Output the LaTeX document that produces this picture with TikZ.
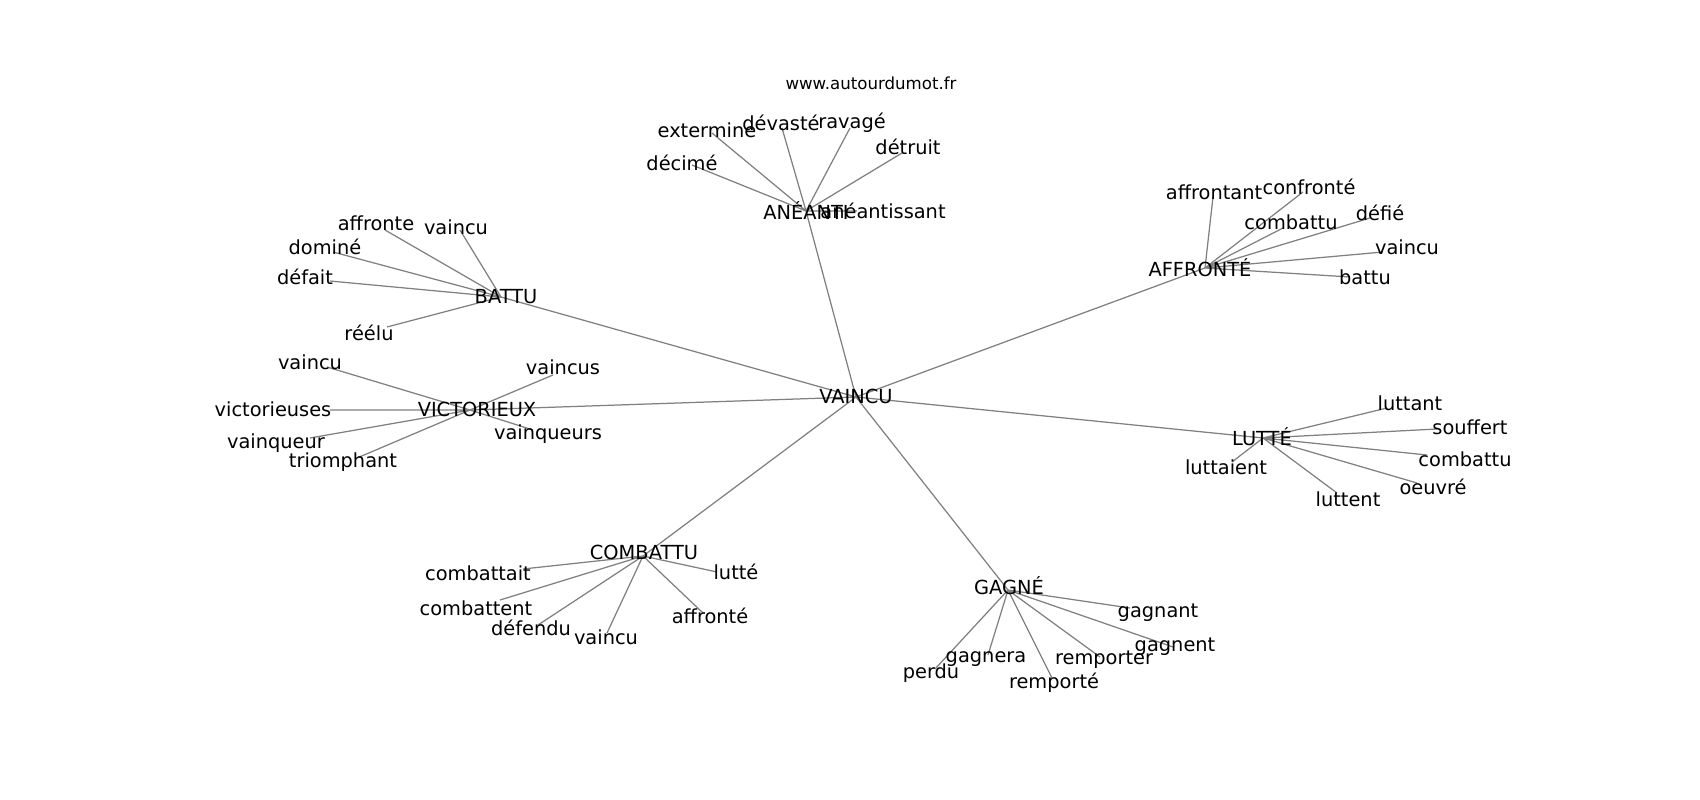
\documentclass[tikz,border=0pt]{standalone}
\usepackage{fontspec}
\setmainfont{DejaVu Sans}
\begin{document}
\begin{tikzpicture}[x=0.01in, y=-0.01in,
  lien/.style={draw=gray, line width=0.9pt},
  mot/.style={inner sep=0pt, font=\fontsize{14}{17}\selectfont},
  titre/.style={inner sep=0pt, font=\fontsize{12}{14}\selectfont}]
\useasboundingbox (0,0) rectangle (1700,800);
\coordinate (V) at (856,397);
\coordinate (N) at (806,211);
\coordinate (F) at (1205,268);
\coordinate (B) at (501,297);
\coordinate (X) at (470,410);
\coordinate (L) at (1263,438);
\coordinate (C) at (643,556);
\coordinate (G) at (1008,590);
\coordinate (N1) at (712,133);
\coordinate (N2) at (782,128);
\coordinate (N3) at (850,128);
\coordinate (N4) at (902,153);
\coordinate (N5) at (692,165);
\coordinate (N6) at (857,211);
\coordinate (F1) at (1213,197);
\coordinate (F2) at (1303,192);
\coordinate (F3) at (1283,228);
\coordinate (F4) at (1370,218);
\coordinate (F5) at (1383,252);
\coordinate (F6) at (1350,277);
\coordinate (B1) at (385,230);
\coordinate (B2) at (460,230);
\coordinate (B3) at (333,252);
\coordinate (B4) at (330,281);
\coordinate (B5) at (387,327);
\coordinate (X1) at (327,367);
\coordinate (X2) at (553,375);
\coordinate (X3) at (330,410);
\coordinate (X4) at (310,438);
\coordinate (X5) at (357,458);
\coordinate (X6) at (533,430);
\coordinate (L1) at (1232,462);
\coordinate (L2) at (1337,493);
\coordinate (L3) at (1387,408);
\coordinate (L4) at (1437,429);
\coordinate (L5) at (1427,455);
\coordinate (L6) at (1417,483);
\coordinate (C1) at (523,569);
\coordinate (C2) at (500,600);
\coordinate (C3) at (538,625);
\coordinate (C4) at (607,633);
\coordinate (C5) at (703,613);
\coordinate (C6) at (717,572);
\coordinate (G1) at (1130,608);
\coordinate (G2) at (1173,647);
\coordinate (G3) at (1100,657);
\coordinate (G4) at (1052,678);
\coordinate (G5) at (988,655);
\coordinate (G6) at (935,669);
\draw[lien](V)--(N) (V)--(F) (V)--(B) (V)--(X) (V)--(L) (V)--(C) (V)--(G);
\draw[lien](N)--(N1) (N)--(N2) (N)--(N3) (N)--(N4) (N)--(N5) (N)--(N6);
\draw[lien](F)--(F1) (F)--(F2) (F)--(F3) (F)--(F4) (F)--(F5) (F)--(F6);
\draw[lien](B)--(B1) (B)--(B2) (B)--(B3) (B)--(B4) (B)--(B5);
\draw[lien](X)--(X1) (X)--(X2) (X)--(X3) (X)--(X4) (X)--(X5) (X)--(X6);
\draw[lien](L)--(L1) (L)--(L2) (L)--(L3) (L)--(L4) (L)--(L5) (L)--(L6);
\draw[lien](C)--(C1) (C)--(C2) (C)--(C3) (C)--(C4) (C)--(C5) (C)--(C6);
\draw[lien](G)--(G1) (G)--(G2) (G)--(G3) (G)--(G4) (G)--(G5) (G)--(G6);
\node[titre] (site) at (871,83) {www.autourdumot.fr};
\node[mot] (vaincu) at (856,396) {VAINCU};
\node[mot] (aneanti) at (806,211) {ANÉANTI};
\node[mot] (affronte) at (1200,268) {AFFRONTÉ};
\node[mot] (battu) at (506,297) {BATTU};
\node[mot] (victorieux) at (477,409) {VICTORIEUX};
\node[mot] (lutte) at (1262,437) {LUTTÉ};
\node[mot] (combattu) at (644,552) {COMBATTU};
\node[mot] (gagne) at (1009,586) {GAGNÉ};
\node[mot] (n1) at (707,130) {extermine};
\node[mot] (n2) at (781,123) {dévasté};
\node[mot] (n3) at (852,123) {ravagé};
\node[mot] (n4) at (908,147) {détruit};
\node[mot] (n5) at (682,163) {décimé};
\node[mot] (n6) at (883,211) {anéantissant};
\node[mot] (f1) at (1214,192) {affrontant};
\node[mot] (f2) at (1309,187) {confronté};
\node[mot] (f3) at (1291,222) {combattu};
\node[mot] (f4) at (1380,213) {défié};
\node[mot] (f5) at (1407,247) {vaincu};
\node[mot] (f6) at (1365,277) {battu};
\node[mot] (b1) at (376,223) {affronte};
\node[mot] (b2) at (456,227) {vaincu};
\node[mot] (b3) at (325,247) {dominé};
\node[mot] (b4) at (305,277) {défait};
\node[mot] (b5) at (369,333) {réélu};
\node[mot] (x1) at (310,362) {vaincu};
\node[mot] (x2) at (563,367) {vaincus};
\node[mot] (x3) at (273,409) {victorieuses};
\node[mot] (x4) at (276,443) {vainqueur};
\node[mot] (x5) at (343,462) {triomphant};
\node[mot] (x6) at (548,434) {vainqueurs};
\node[mot] (l1) at (1226,467) {luttaient};
\node[mot] (l2) at (1348,499) {luttent};
\node[mot] (l3) at (1410,403) {luttant};
\node[mot] (l4) at (1470,427) {souffert};
\node[mot] (l5) at (1465,459) {combattu};
\node[mot] (l6) at (1433,487) {oeuvré};
\node[mot] (c1) at (478,573) {combattait};
\node[mot] (c2) at (476,608) {combattent};
\node[mot] (c3) at (531,628) {défendu};
\node[mot] (c4) at (606,637) {vaincu};
\node[mot] (c5) at (710,616) {affronté};
\node[mot] (c6) at (736,572) {lutté};
\node[mot] (g1) at (1158,613) {gagnant};
\node[mot] (g2) at (1175,647) {gagnent};
\node[mot] (g3) at (1104,660) {remporter};
\node[mot] (g4) at (1054,683) {remporté};
\node[mot] (g5) at (986,659) {gagnera};
\node[mot] (g6) at (931,673) {perdu};
\end{tikzpicture}
\end{document}
